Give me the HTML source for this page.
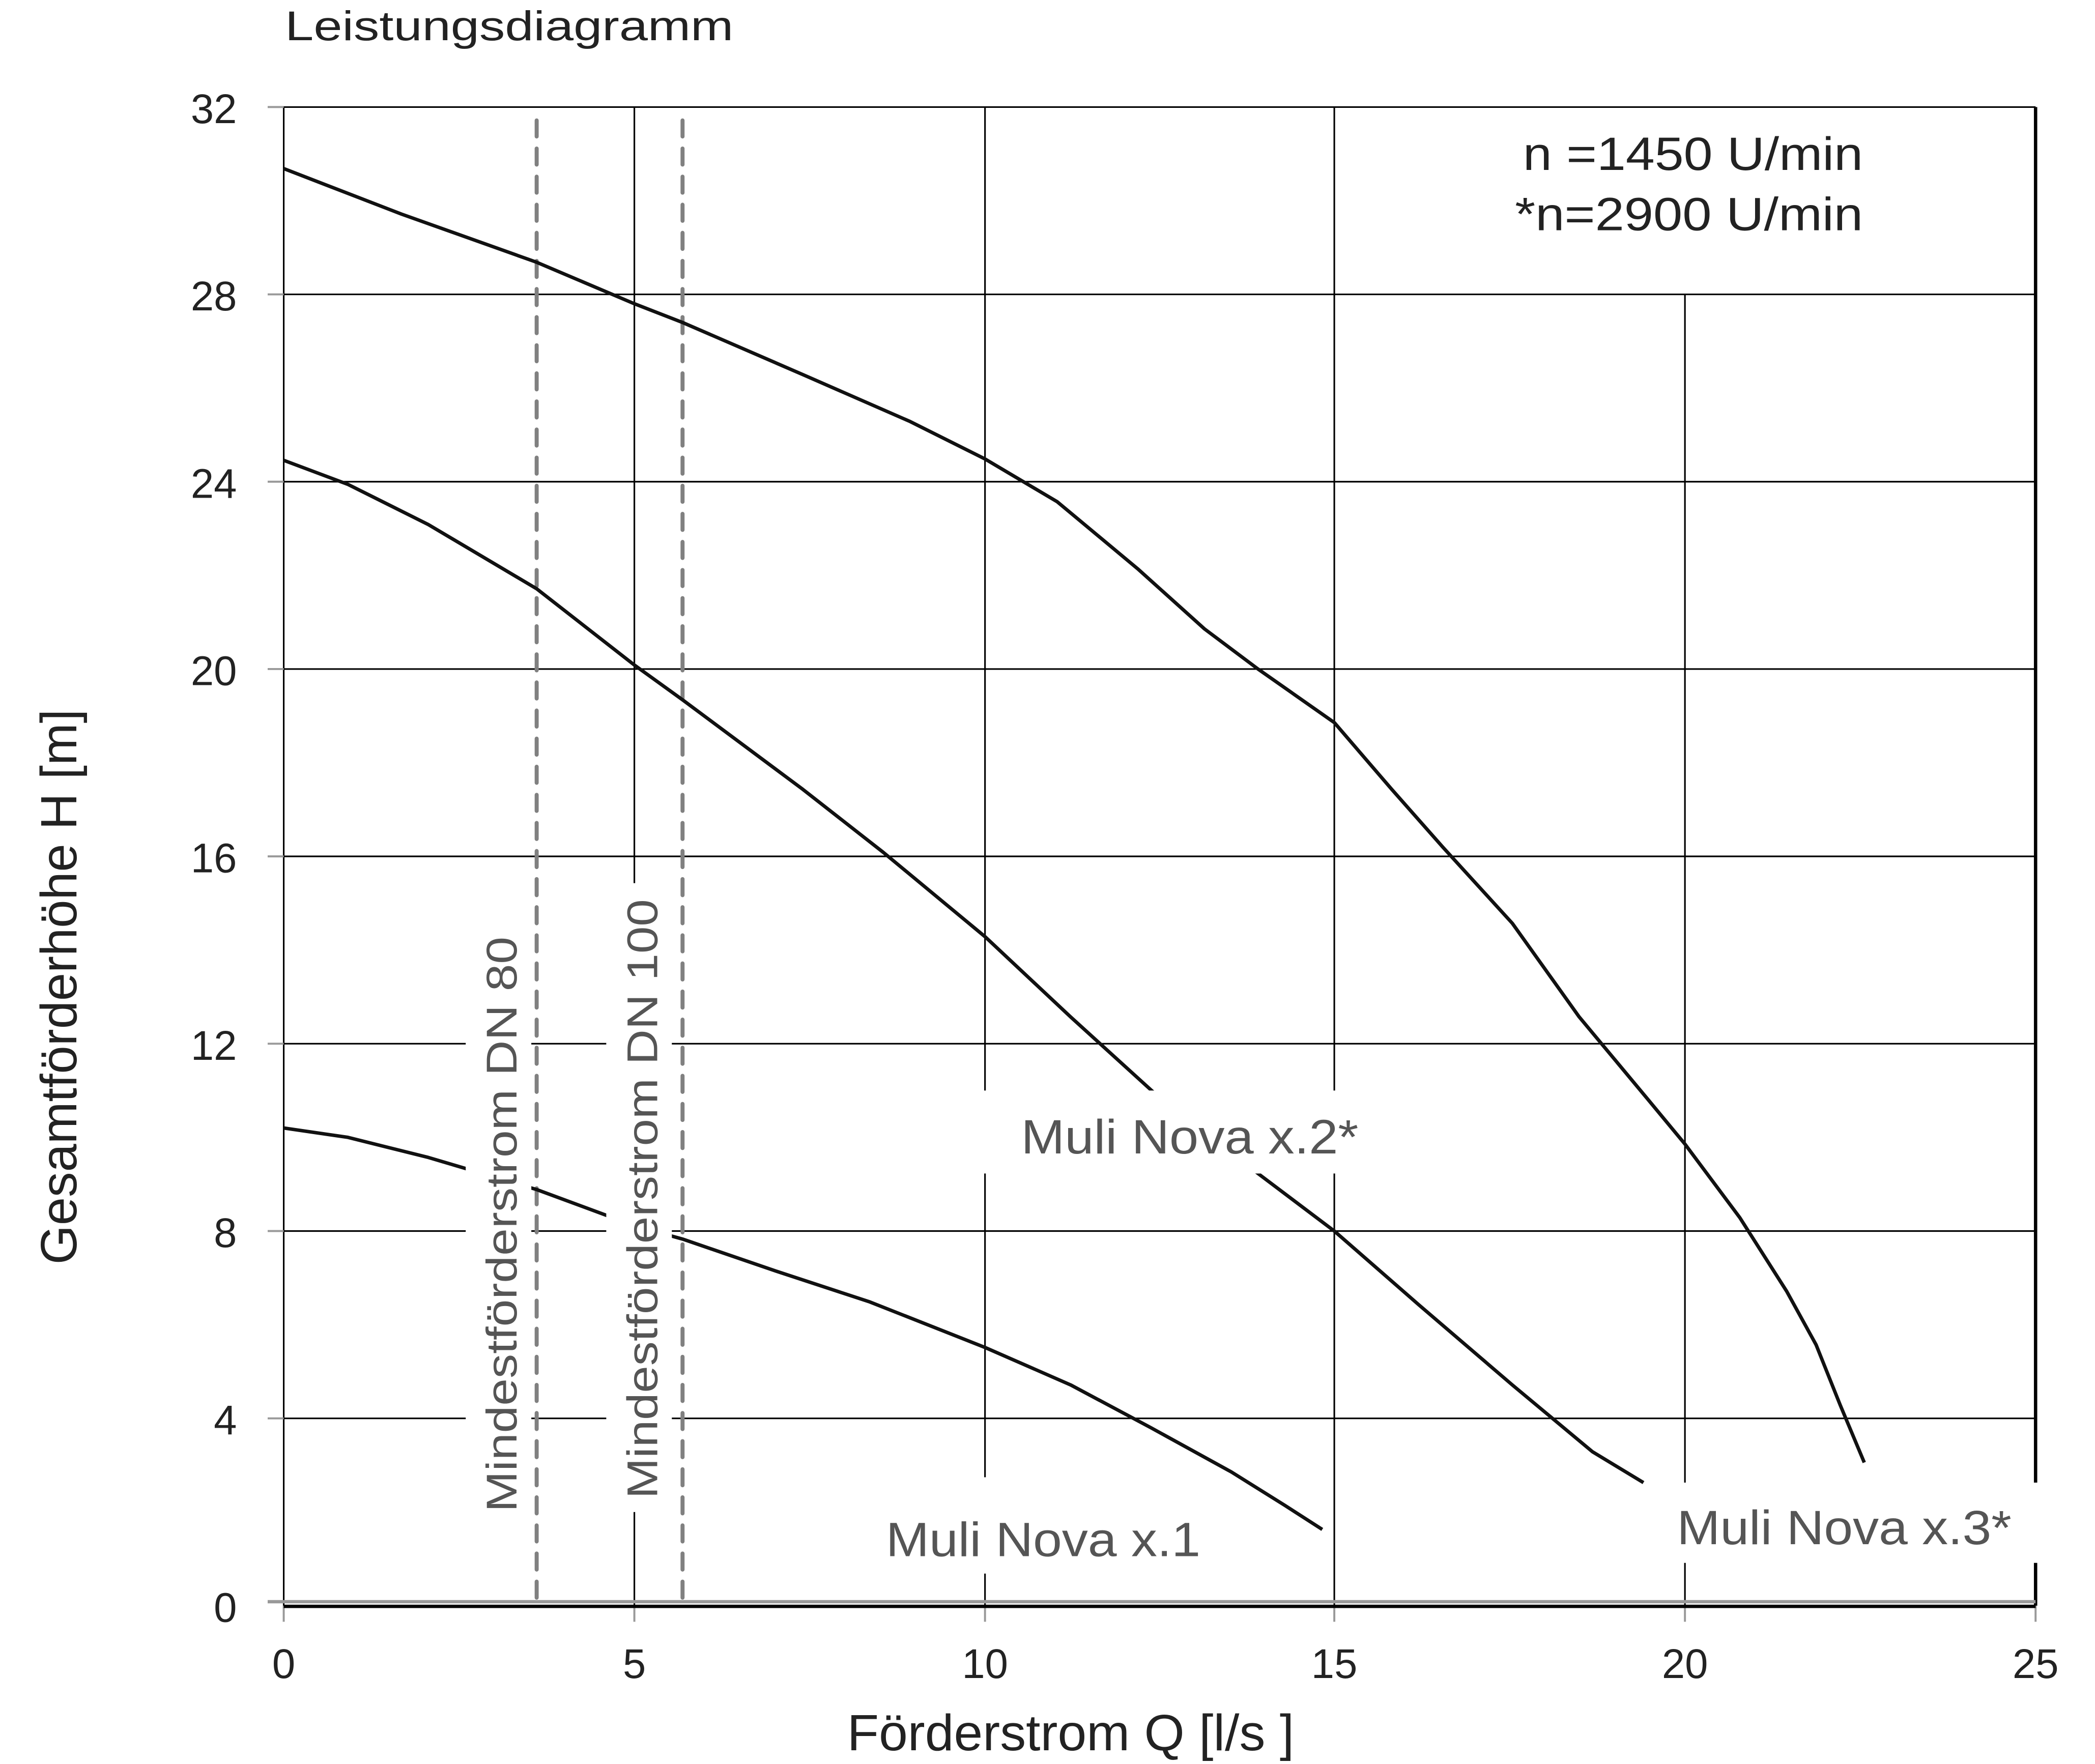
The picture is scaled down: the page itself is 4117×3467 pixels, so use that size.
<!DOCTYPE html>
<html><head><meta charset="utf-8"><style>html,body{margin:0;padding:0;background:#fff}svg{display:block}</style></head>
<body>
<svg width="4117" height="3467" viewBox="0 0 1565.4 1318.3" preserveAspectRatio="none" xmlns="http://www.w3.org/2000/svg" font-family="Liberation Sans, Arial, sans-serif">
<rect width="1565.4" height="1318.3" fill="#fff"/>
<text x="213" y="30" font-size="31" fill="#222" textLength="335" lengthAdjust="spacingAndGlyphs">Leistungsdiagramm</text>
<g stroke="#000" stroke-width="1.2">
<line x1="212" y1="80" x2="1521" y2="80"/>
<line x1="212" y1="220" x2="1521" y2="220"/>
<line x1="212" y1="360" x2="1521" y2="360"/>
<line x1="212" y1="500" x2="1521" y2="500"/>
<line x1="212" y1="640" x2="1521" y2="640"/>
<line x1="212" y1="780" x2="1521" y2="780"/>
<line x1="212" y1="920" x2="1521" y2="920"/>
<line x1="212" y1="1060" x2="1521" y2="1060"/>
<line x1="212" y1="80" x2="212" y2="1200"/>
<line x1="474" y1="80" x2="474" y2="1200"/>
<line x1="736" y1="80" x2="736" y2="1200"/>
<line x1="997" y1="80" x2="997" y2="1200"/>
<line x1="1259" y1="220" x2="1259" y2="1200"/>
</g>
<line x1="1521" y1="80" x2="1521" y2="1200" stroke="#000" stroke-width="2.5"/>
<g stroke="#999" stroke-width="1.5">
<line x1="200" y1="80" x2="212" y2="80"/><line x1="200" y1="220" x2="212" y2="220"/><line x1="200" y1="360" x2="212" y2="360"/><line x1="200" y1="500" x2="212" y2="500"/><line x1="200" y1="640" x2="212" y2="640"/><line x1="200" y1="780" x2="212" y2="780"/><line x1="200" y1="920" x2="212" y2="920"/><line x1="200" y1="1060" x2="212" y2="1060"/>
<line x1="212" y1="1200" x2="212" y2="1212"/><line x1="474" y1="1200" x2="474" y2="1212"/><line x1="736" y1="1200" x2="736" y2="1212"/><line x1="997" y1="1200" x2="997" y2="1212"/><line x1="1259" y1="1200" x2="1259" y2="1212"/><line x1="1521" y1="1200" x2="1521" y2="1212"/>
</g>
<line x1="200" y1="1197" x2="1521" y2="1197" stroke="#999" stroke-width="2.5"/>
<line x1="212" y1="1200.5" x2="1521" y2="1200.5" stroke="#000" stroke-width="2.5"/>
<g stroke="#808080" stroke-width="3" stroke-dasharray="12 9" stroke-linecap="round">
<line x1="401" y1="90" x2="401" y2="1200"/>
<line x1="510" y1="90" x2="510" y2="1200"/>
</g>
<g fill="none" stroke="#111" stroke-width="2.6" stroke-linejoin="round">
<polyline points="212,126 300,160 401,196 474,227 510,241 600,280 680,315 736,343 790,375 850,425 900,470 940,500 997,540 1040,590 1078,633 1130,690 1180,760 1230,820 1259,855 1300,910 1335,965 1357,1005 1375,1050 1393,1093"/>
<polyline points="212,344 260,362 320,392 401,440 474,497 510,523 600,590 660,637 736,700 800,760 866,820 940,877 997,920 1060,975 1130,1035 1190,1085 1228,1108"/>
<polyline points="212,843 260,850 320,865 401,889 474,916 510,926 580,950 650,973 736,1007 800,1035 860,1067 920,1100 960,1125 988,1143"/>
</g>
<g fill="#fff">
<rect x="348" y="680" width="49" height="458"/>
<rect x="453" y="660" width="49" height="470"/>
<rect x="735" y="815" width="300" height="62"/>
<rect x="655" y="1104" width="250" height="72"/>
<rect x="1240" y="1108" width="290" height="60"/>
</g>
<g fill="#555">
<text transform="translate(386,1130) rotate(-90)" font-size="32" textLength="430" lengthAdjust="spacingAndGlyphs">Mindestförderstrom DN 80</text>
<text transform="translate(491,1120) rotate(-90)" font-size="32" textLength="448" lengthAdjust="spacingAndGlyphs">Mindestförderstrom DN 100</text>
<text x="763" y="862" font-size="36" textLength="252" lengthAdjust="spacingAndGlyphs">Muli Nova x.2*</text>
<text x="662" y="1163" font-size="36" textLength="235" lengthAdjust="spacingAndGlyphs">Muli Nova x.1</text>
<text x="1253" y="1154" font-size="36" textLength="250" lengthAdjust="spacingAndGlyphs">Muli Nova x.3*</text>
</g>
<g fill="#222" font-size="31" text-anchor="end">
<text x="177" y="92">32</text><text x="177" y="232">28</text><text x="177" y="372">24</text><text x="177" y="512">20</text><text x="177" y="652">16</text><text x="177" y="792">12</text><text x="177" y="932">8</text><text x="177" y="1072">4</text><text x="177" y="1212">0</text>
</g>
<g fill="#222" font-size="31" text-anchor="middle">
<text x="212" y="1254">0</text><text x="474" y="1254">5</text><text x="736" y="1254">10</text><text x="997" y="1254">15</text><text x="1259" y="1254">20</text><text x="1521" y="1254">25</text>
</g>
<text x="633" y="1308" font-size="38" fill="#222" textLength="334" lengthAdjust="spacingAndGlyphs">Förderstrom Q [l/s ]</text>
<text transform="translate(57,945) rotate(-90)" font-size="38" fill="#222" textLength="415" lengthAdjust="spacingAndGlyphs">Gesamtförderhöhe H [m]</text>
<text x="1138" y="127" font-size="35" fill="#222" textLength="254" lengthAdjust="spacingAndGlyphs">n =1450 U/min</text>
<text x="1132" y="172" font-size="35" fill="#222" textLength="260" lengthAdjust="spacingAndGlyphs">*n=2900 U/min</text>
</svg>
</body></html>
